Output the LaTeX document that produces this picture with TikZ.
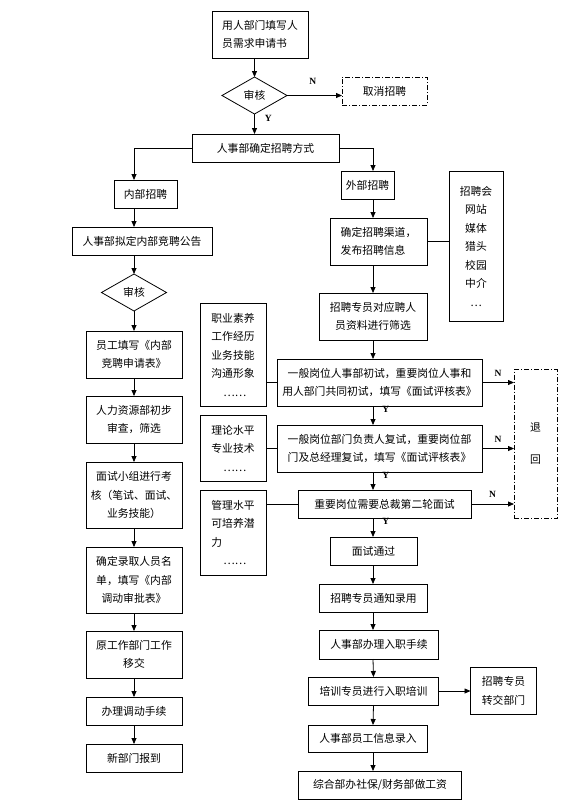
\documentclass[tikz,border=0pt]{standalone}
\usepackage{fontspec}
\setmainfont{Noto Sans CJK SC}
\newfontfamily\latinfont{Liberation Serif}
\usetikzlibrary{shapes.geometric,arrows.meta,positioning}

\begin{document}
\begin{tikzpicture}[
    x=1pt, y=-1pt,
    node distance=19pt,
    box/.style={rectangle, draw, line width=0.8pt, align=center, inner sep=2pt, outer sep=0pt, minimum height=28pt, font=\fontsize{10.8pt}{18.5pt}\selectfont},
    tall/.style={box, minimum height=47pt},
    taller/.style={box, minimum height=66pt},
    check/.style={diamond, draw, line width=0.8pt, minimum width=65pt, minimum height=37pt, inner sep=0pt, outer sep=0pt, font=\fontsize{10.8pt}{18.5pt}\selectfont},
    dashbox/.style={box, dash pattern=on 5pt off 2pt on 1pt off 2pt},
    arrow/.style={-{Triangle[length=6pt,width=5pt]}, line width=0.8pt},
    link/.style={line width=0.8pt},
    yn/.style={font=\latinfont\bfseries\fontsize{9.5pt}{10pt}\selectfont, inner sep=1pt}
]
    \useasboundingbox (0,0) rectangle (587,801);

    \node[tall, align=left, minimum width=96pt] (request) at (260,34.5) {用人部门填写人\\员需求申请书};
    \node[check, below=19pt of request, xshift=-5.5pt] (audit) {审核};
    \node[dashbox, minimum width=85pt, right=55pt of audit, yshift=4.5pt] (cancel) {取消招聘};
    \node[box, minimum width=147pt, below=20pt of audit, xshift=11pt] (method) {人事部确定招聘方式};

    % internal
    \node[box, minimum width=63pt, below=18pt of method, xshift=-120pt] (inner) {内部招聘};
    \node[box, minimum width=140pt, below=19pt of inner, xshift=-3.5pt] (notice) {人事部拟定内部竞聘公告};
    \node[check, below=19pt of notice, xshift=-8pt] (audit2) {审核};
    \node[tall, minimum width=96pt, below=20pt of audit2] (apply) {员工填写《内部\\竞聘申请表》};
    \node[tall, minimum width=96pt, below=18pt of apply] (hrcheck) {人力资源部初步\\审查，筛选};
    \node[taller, minimum width=96pt, below=19pt of hrcheck] (exam) {面试小组进行考\\核（笔试、面试、\\业务技能）};
    \node[taller, minimum width=96pt, below=19pt of exam] (namelist) {确定录取人员名\\单，填写《内部\\调动审批表》};
    \node[tall, minimum width=96pt, below=18pt of namelist] (handover) {原工作部门工作\\移交};
    \node[box, minimum width=96pt, below=19pt of handover] (transfer) {办理调动手续};
    \node[box, minimum width=96pt, below=19pt of transfer] (report) {新部门报到};

    % external
    \node[box, minimum width=53pt, below=9pt of method, xshift=102pt] (outer) {外部招聘};
    \node[tall, align=left, minimum width=97pt, below=19pt of outer, xshift=11pt] (channel) {确定招聘渠道，\\发布招聘信息};
    \node[box, minimum width=54pt, minimum height=150pt, right=22pt of channel, yshift=-5pt] (media) {招聘会\\网站\\媒体\\猎头\\校园\\中介\\…};
    \node[tall, minimum width=108pt, below=28pt of channel, xshift=-5.5pt] (screen) {招聘专员对应聘人\\员资料进行筛选};
    \node[tall, minimum width=205pt, below=19pt of screen, xshift=6.5pt] (first) {一般岗位人事部初试，重要岗位人事和\\用人部门共同初试，填写《面试评核表》};
    \node[tall, minimum width=205pt, below=19pt of first] (second) {一般岗位部门负责人复试，重要岗位部\\门及总经理复试，填写《面试评核表》};
    \node[box, minimum width=173pt, below=18pt of second, xshift=5pt] (final) {重要岗位需要总裁第二轮面试};
    \node[dashbox, minimum width=43pt, minimum height=149pt, right=32pt of second, yshift=4.5pt] (back) {退\\[13.5pt]回};

    % criteria
    \node[box, align=left, minimum width=66pt, minimum height=103pt, left=11pt of first, yshift=28pt] (skills) {职业素养\\工作经历\\业务技能\\沟通形象\\\hspace*{12pt}……};
    \node[box, align=left, minimum width=66pt, minimum height=66pt, left=11pt of second] (theory) {理论水平\\专业技术\\\hspace*{12pt}……};
    \node[box, align=left, minimum width=66pt, minimum height=85pt, left=32pt of final, yshift=-28.5pt] (potential) {管理水平\\可培养潜\\力\\\hspace*{12pt}……};

    % hiring
    \node[box, minimum width=87pt, below=19pt of final, xshift=-11pt] (pass) {面试通过};
    \node[box, minimum width=108pt, below=19pt of pass] (notify) {招聘专员通知录用};
    \node[box, minimum width=119pt, minimum height=29pt, below=18pt of notify, xshift=5.5pt] (entry) {人事部办理入职手续};
    \node[box, minimum width=130pt, below=18pt of entry, xshift=-5.5pt] (train) {培训专员进行入职培训};
    \node[tall, minimum width=66pt, right=32pt of train] (handoff) {招聘专员\\转交部门};
    \node[box, minimum width=119pt, minimum height=27pt, below=20pt of train, xshift=-5.5pt] (record) {人事部员工信息录入};
    \node[box, minimum width=163pt, below=19pt of record, xshift=12pt] (payroll) {综合部办社保/财务部做工资};

    \draw[arrow] (request.south -| audit) -- (audit.north);
    \draw[arrow] (audit.east) -- node[yn, above=10pt, pos=0.47] {N} (audit.east -| cancel.west);
    \draw[arrow] (audit.south) -- node[yn, right=9pt, pos=0.2] {Y} (method.north -| audit);
    \draw[arrow] (method.west) -| (inner.north -| apply);
    \draw[arrow] (method.east) -| (outer.north -| screen);

    \draw[arrow] (inner.south -| apply) -- (notice.north -| apply);
    \draw[arrow] (notice.south -| apply) -- (audit2.north);
    \draw[arrow] (audit2.south) -- (apply.north);
    \draw[arrow] (apply) -- (hrcheck);
    \draw[arrow] (hrcheck) -- (exam);
    \draw[arrow] (exam) -- (namelist);
    \draw[arrow] (namelist) -- (handover);
    \draw[arrow] (handover) -- (transfer);
    \draw[arrow] (transfer) -- (report);

    \draw[arrow] (outer.south -| screen) -- (channel.north -| screen);
    \draw[link] (channel.east) -- (channel.east -| media.west);
    \draw[arrow] (channel.south -| screen) -- (screen.north);
    \draw[arrow] (screen.south) -- (first.north -| screen);
    \draw[arrow] (first.south -| screen) -- node[yn, right=8pt, pos=0.2] {Y} (second.north -| screen);
    \draw[arrow] (second.south -| screen) -- node[yn, right=8pt, pos=0.2] {Y} (final.north -| screen);
    \draw[arrow] (final.south -| screen) -- node[yn, right=8pt, pos=0.2] {Y} (pass.north -| screen);
    \draw[arrow] (first.east) -- node[yn, above=5pt] {N} (first.east -| back.west);
    \draw[arrow] (second.east) -- node[yn, above=5pt] {N} (second.east -| back.west);
    \draw[arrow] (final.east) -- node[yn, above=5pt] {N} (final.east -| back.west);
    \draw[link] (skills.east |- first.west) -- (first.west);
    \draw[link] (theory.east |- second.west) -- (second.west);
    \draw[link] (potential.east |- final.west) -- (final.west);

    \draw[arrow] (pass.south -| screen) -- (notify.north -| screen);
    \draw[arrow] (notify.south -| screen) -- (entry.north -| screen);
    \draw[arrow] (entry.south -| screen) -- (train.north);
    \draw[arrow] (train) -- (handoff);
    \draw[arrow] (train.south) -- (record.north -| screen);
    \draw[arrow] (record.south -| screen) -- (payroll.north -| screen);
\end{tikzpicture}
\end{document}
